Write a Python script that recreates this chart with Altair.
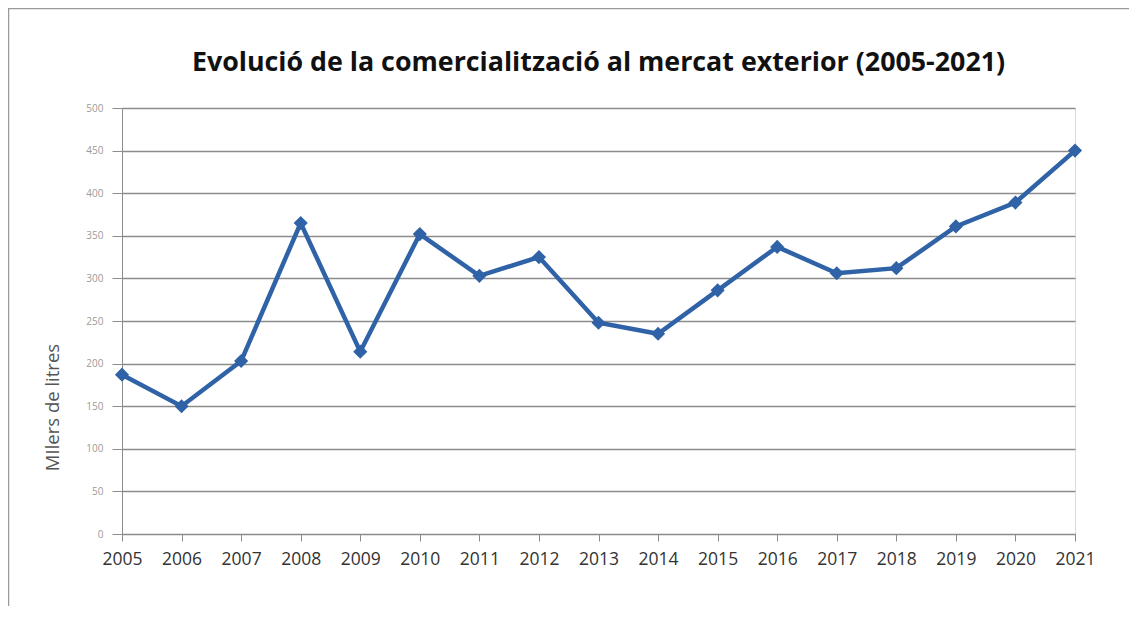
import altair as alt
import pandas as pd

years = [2005, 2006, 2007, 2008, 2009, 2010, 2011, 2012, 2013,
         2014, 2015, 2016, 2017, 2018, 2019, 2020, 2021]
values = [187, 150, 203, 365, 214, 352, 303, 325, 248,
          235, 286, 337, 306, 312, 361, 389, 450]
y_ticks = [0, 50, 100, 150, 200, 250, 300, 350, 400, 450, 500]

title_text = "Evolució de la comercialització al mercat exterior (2005-2021)"
y_title = "MIlers de litres"

df = pd.DataFrame({"year": years, "value": values})
title_df = pd.DataFrame({"t": [title_text]})

FONT = "Open Sans"
GRID = "#8c8c8c"
BLUE = "#2F62A6"

base = alt.Chart(df)

x_enc = alt.X(
    "year:Q",
    scale=alt.Scale(domain=[years[0], years[-1]], nice=False, zero=False),
    axis=alt.Axis(
        values=years, format="d", grid=False, title=None,
        labelFont=FONT, labelFontSize=17.5, labelColor="#333333",
        labelPadding=9, tickSize=7, tickColor=GRID, domainColor=GRID,
        labelFlush=False, labelOverlap=False,
    ),
)
y_enc = alt.Y(
    "value:Q",
    scale=alt.Scale(domain=[0, 500], nice=False),
    axis=alt.Axis(
        values=y_ticks, grid=True, gridColor=GRID, gridWidth=1.3,
        title=y_title, titleFont=FONT, titleFontSize=18.5, titleFontWeight="normal",
        titleColor="#555555", titleX=-70, titleY=299, titleAngle=-90,
        titleAlign="center", titleBaseline="middle",
        labelFont=FONT, labelFontSize=10, labelColor="#9a9a9a",
        labelPadding=9, tickSize=10, tickColor=GRID, domainColor=GRID,
    ),
)

line = base.mark_line(color=BLUE, strokeWidth=4.5).encode(x=x_enc, y=y_enc)
points = base.mark_point(shape="diamond", filled=True, size=200, color=BLUE, opacity=1).encode(
    x="year:Q", y="value:Q"
)

frame_left = alt.Chart(title_df).mark_rule(color="#9a9a9a", strokeWidth=1.5).encode(
    x=alt.value(-113.5), y=alt.value(-100), y2=alt.value(498)
)
frame_top = alt.Chart(title_df).mark_rule(color="#9a9a9a", strokeWidth=1.5).encode(
    x=alt.value(-114), x2=alt.value(1010), y=alt.value(-99.5)
)
title = alt.Chart(title_df).mark_text(
    font=FONT, fontSize=26.8, fontWeight="bold", color="#111111",
    align="center", baseline="alphabetic",
).encode(x=alt.value(476.5), y=alt.value(-37), text="t:N")

chart = alt.layer(frame_left, frame_top, title, line, points).properties(
    width=953,
    height=426,
    autosize=alt.AutoSizeParams(type="none"),
    padding={"left": 114, "top": 100, "right": 54, "bottom": 80},
).configure_view(stroke=None).configure(background="white")

chart.save("out.html", embed_options={"renderer": "svg", "actions": False})
